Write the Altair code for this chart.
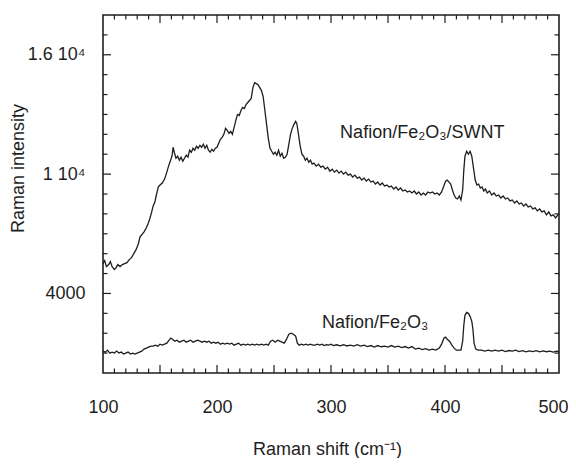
import altair as alt
import pandas as pd

# ---- data ----
swnt_x = [100, 101.5, 103, 105, 106.5, 108, 110, 111.5, 113, 115, 117, 119, 121, 123, 125, 127, 129, 131, 132.5, 134,
          136, 138, 139.5, 141, 142.5, 144, 145.5, 147, 148.5, 150, 152, 154, 156, 157.5, 159, 160.5, 161.5, 162.5, 164, 165.5,
          167, 168.5, 170, 171.5, 173, 174.5, 176, 177.5, 179, 180.5, 182, 183.5, 185, 186.5, 188, 189.5, 191, 192.5, 194, 195.5,
          197, 198.5, 200, 201.5, 203, 204.5, 206, 207.5, 209, 210.5, 212, 213.5, 215, 216.5, 218, 219.5, 221, 222.5, 224, 225.5,
          227, 228.5, 230, 231.5, 233, 234.5, 236, 237.5, 239, 240.5, 242, 243.5, 245, 246.5, 248, 249.5, 251, 252.5, 254, 255.5,
          257, 258.5, 260, 261.5, 263, 264.5, 266, 267.5, 269, 270, 271.5, 273, 274.5, 276, 277.5, 279, 280.5, 282, 283.5, 285,
          287, 289, 291, 293, 295, 297, 299, 301, 303, 305, 307, 309, 311, 313, 315, 317, 319, 321, 323, 325,
          327, 329, 331, 333, 335, 337, 339, 341, 343, 345, 347, 349, 351, 353, 355, 357, 359, 361, 363, 365,
          367, 369, 371, 373, 375, 377, 379, 381, 383, 385, 387, 389, 391, 393, 395, 397, 399, 400.5, 402, 403.5,
          405, 406.5, 408, 409.5, 411, 412.5, 414, 415.5, 416.5, 417.5, 419, 420.5, 422, 423.5, 425, 426.5, 428, 429.5, 431, 432.5,
          434, 435.5, 437, 439, 441, 443, 445, 447, 449, 451, 453, 455, 457, 459, 461, 463, 465, 467, 469, 471,
          473, 475, 477, 479, 481, 483, 485, 487, 489, 491, 493, 495, 497, 499, 500]
swnt_y = [5500, 5650, 5350, 5450, 5600, 5350, 5200, 5300, 5450, 5350, 5450, 5500, 5550, 5700, 5800, 6000, 6200, 6500, 6850, 6950,
          7100, 7300, 7500, 7750, 8050, 8400, 8600, 9000, 9350, 9450, 9550, 9750, 10100, 10400, 10650, 10900, 11350, 11100, 10800, 10900,
          10700, 10850, 10650, 10800, 10950, 10850, 11200, 11100, 11300, 11200, 11400, 11300, 11450, 11350, 11500, 11300, 11450, 11200, 11100, 11250,
          11150, 11300, 11350, 11550, 11750, 11850, 12000, 12300, 12200, 12050, 12150, 12000, 12350, 12700, 13000, 12950, 13200, 13350, 13300, 13500,
          13600, 13700, 13800, 14350, 14600, 14550, 14500, 14350, 14200, 13900, 13200, 12500, 11800, 11300, 11150, 11000, 11100, 10950, 11200, 10900,
          11050, 10800, 10850, 11000, 11500, 12000, 12300, 12500, 12650, 12550, 12000, 11400, 11000, 10900, 10700, 10800, 10600, 10700, 10500, 10550,
          10400, 10500, 10350, 10400, 10250, 10350, 10150, 10250, 10100, 10200, 10050, 10150, 10000, 10100, 9950, 10000, 9850, 9950, 9800, 9850,
          9700, 9800, 9650, 9750, 9600, 9650, 9500, 9600, 9450, 9550, 9400, 9450, 9350, 9400, 9250, 9350, 9200, 9300, 9150, 9200,
          9100, 9150, 9050, 9150, 9000, 9100, 8950, 9050, 8950, 9100, 9050, 9100, 9000, 9050, 8950, 9100, 9400, 9650, 9700, 9600,
          9500, 9200, 8950, 8800, 8750, 8900, 8700, 9200, 10200, 10900, 11150, 11000, 11150, 10900, 10300, 9700, 9450, 9500, 9300, 9350,
          9150, 9250, 9050, 9150, 8950, 9050, 8900, 8950, 8800, 8900, 8750, 8800, 8650, 8700, 8550, 8650, 8500, 8550, 8400, 8500,
          8350, 8400, 8250, 8300, 8150, 8250, 8100, 8150, 7950, 8100, 7900, 7950, 7800, 7950, 8000]

fe_x = [100, 102, 104, 106, 108, 110, 112, 114, 116, 118, 120, 122, 124, 126, 128, 130, 132, 134, 136, 138,
        140, 142, 144, 146, 148, 150, 152, 154, 156, 158, 159.5, 161, 163, 165, 167, 169, 171, 173, 175, 177,
        179, 181, 183, 185, 187, 189, 191, 193, 195, 197, 199, 201, 203, 205, 207, 209, 211, 213, 215, 217,
        219, 221, 223, 225, 227, 229, 231, 233, 235, 237, 239, 241, 243, 245, 247, 249, 251, 253, 255, 257,
        259, 261, 263, 265, 267, 269, 270.5, 272, 274, 276, 278, 280, 282, 284, 286, 288, 290, 292, 294, 296,
        298, 300, 302, 305, 308, 311, 314, 317, 320, 323, 326, 329, 332, 335, 338, 341, 344, 347, 350, 353,
        356, 359, 362, 365, 368, 371, 374, 377, 380, 383, 386, 389, 392, 395, 397, 399, 400.5, 402, 404, 406,
        408, 410, 412, 414, 415.5, 416.5, 417.5, 419, 420.5, 422, 423.5, 424.5, 425.5, 427, 429, 432, 435, 438, 441, 444,
        447, 450, 453, 456, 459, 462, 465, 468, 471, 474, 477, 480, 483, 486, 489, 492, 495, 498, 500]
fe_y = [1100, 1050, 1150, 1000, 1050, 1000, 1100, 1000, 1050, 950, 1000, 1050, 950, 1000, 950, 1000, 1050, 1100, 1200, 1250,
        1300, 1350, 1350, 1400, 1350, 1450, 1400, 1450, 1500, 1650, 1750, 1700, 1600, 1650, 1550, 1600, 1650, 1550, 1600, 1650,
        1550, 1600, 1650, 1600, 1550, 1600, 1550, 1600, 1500, 1550, 1500, 1550, 1450, 1500, 1450, 1500, 1450, 1500, 1400, 1450,
        1500, 1400, 1450, 1400, 1450, 1400, 1450, 1400, 1450, 1400, 1450, 1400, 1450, 1400, 1600, 1650, 1550, 1650, 1600, 1550,
        1500, 1700, 1950, 2000, 1950, 1850, 1500, 1400, 1450, 1400, 1450, 1400, 1450, 1400, 1400, 1450, 1400, 1450, 1380, 1420,
        1400, 1450, 1380, 1420, 1370, 1420, 1360, 1400, 1350, 1420, 1350, 1400, 1330, 1380, 1300, 1380, 1320, 1350, 1300, 1380,
        1300, 1350, 1280, 1330, 1250, 1330, 1200, 1250, 1180, 1220, 1150, 1200, 1150, 1250, 1450, 1750, 1800, 1700, 1600, 1400,
        1250, 1150, 1150, 1150, 1600, 2400, 2900, 3050, 3000, 2850, 2600, 2200, 1500, 1200, 1150, 1150, 1100, 1150, 1100, 1150,
        1100, 1150, 1080, 1130, 1100, 1150, 1080, 1120, 1060, 1110, 1080, 1120, 1060, 1110, 1070, 1100, 1050, 1100, 1080]

label_names = ["Nafion/Fe₂O₃/SWNT", "Nafion/Fe₂O₃"]
label_x = [308, 292]
label_y = [11800, 2250]

x_label_values = [100, 200, 300, 400, 500]
x_major_ticks = [150, 200, 250, 300, 350, 400, 450]
x_minor_ticks = [110, 120, 130, 140, 160, 170, 180, 190, 210, 220, 230, 240, 260, 270, 280, 290,
                 310, 320, 330, 340, 360, 370, 380, 390, 410, 420, 430, 440, 460, 470, 480, 490]
y_label_values = [4000, 10000, 16000]
y_label_texts = ["4000", "1 10⁴", "1.6 10⁴"]
y_minor_ticks = [1000, 2000, 3000, 5000, 6000, 7000, 8000, 9000, 11000, 12000, 13000, 14000, 15000, 17000]

W, H = 456, 358
FONT = "Liberation Sans"
INK = "#1e1e1e"

curves = pd.concat([
    pd.DataFrame({"x": swnt_x, "y": swnt_y, "s": "swnt", "o": range(len(swnt_x))}),
    pd.DataFrame({"x": fe_x, "y": fe_y, "s": "fe", "o": range(len(fe_x))}),
])

xs = alt.Scale(domain=[100, 500], nice=False, zero=False)
ys = alt.Scale(domain=[0, 18000], nice=False, zero=False)

label_expr = " : ".join(
    f"datum.value == {v} ? '{t}'" for v, t in zip(y_label_values, y_label_texts)
) + " : ''"

xaxis = alt.Axis(values=x_label_values, ticks=False, tickSize=0, domain=False, grid=False,
                 labelFontSize=18, labelFont=FONT, labelColor=INK, labelPadding=25,
                 labelFlush=False, labelOverlap=False,
                 labelOffset={"condition": {"test": "datum.value == 500", "value": -6}, "value": 0},
                 title="Raman shift (cm⁻¹)", titleFont=FONT, titleFontSize=18, titleFontWeight="normal",
                 titleColor=INK, titleX=224, titleY=81, titleBaseline="alphabetic", titleAlign="center")
yaxis = alt.Axis(values=y_label_values, labelExpr=label_expr, ticks=False, tickSize=0, domain=False, grid=False,
                 labelFontSize=18, labelFont=FONT, labelColor=INK, labelPadding=18,
                 labelFlush=False, labelOverlap=False,
                 title="Raman intensity", titleFont=FONT, titleFontSize=18, titleFontWeight="normal",
                 titleColor=INK, titleAngle=270, titleX=-80, titleY=153, titleBaseline="alphabetic",
                 titleAlign="center")

def X(field="x"):
    return alt.X(f"{field}:Q", scale=xs, axis=xaxis)

def Y(field="y"):
    return alt.Y(f"{field}:Q", scale=ys, axis=yaxis)

lines = alt.Chart(curves).mark_line(color=INK, strokeWidth=1.3).encode(
    x=X(), y=Y(), detail="s:N", order="o:Q")

texts = alt.Chart(pd.DataFrame({"x": label_x, "y": label_y, "t": label_names})).mark_text(
    align="left", baseline="alphabetic", font=FONT, fontSize=18, color=INK).encode(
    x=X(), y=Y(), text="t:N")

def xticks(vals, L):
    d = pd.DataFrame({"x": vals})
    bottom = alt.Chart(d).mark_rule(color=INK, strokeWidth=1.2).encode(
        x=X(), y=alt.value(H), y2=alt.value(H - L))
    top = alt.Chart(d).mark_rule(color=INK, strokeWidth=1.2).encode(
        x=X(), y=alt.value(0), y2=alt.value(L))
    return [bottom, top]

def yticks(vals, L):
    d = pd.DataFrame({"y": vals})
    left = alt.Chart(d).mark_rule(color=INK, strokeWidth=1.2).encode(
        y=Y(), x=alt.value(0), x2=alt.value(L))
    right = alt.Chart(d).mark_rule(color=INK, strokeWidth=1.2).encode(
        y=Y(), x=alt.value(W), x2=alt.value(W - L))
    return [left, right]

layers = [lines, texts] + xticks(x_major_ticks, 8) + xticks(x_minor_ticks, 4.5) \
    + yticks(y_label_values, 8) + yticks(y_minor_ticks, 4.5)

chart = alt.layer(*layers).properties(
    width=W, height=H,
    autosize=alt.AutoSizeParams(type="none"),
    padding={"left": 95, "top": 7, "right": 9, "bottom": 85},
    background="white",
).configure_view(stroke=INK, strokeWidth=1.6)

chart.save("out.html", embed_options={"renderer": "svg", "actions": False})
